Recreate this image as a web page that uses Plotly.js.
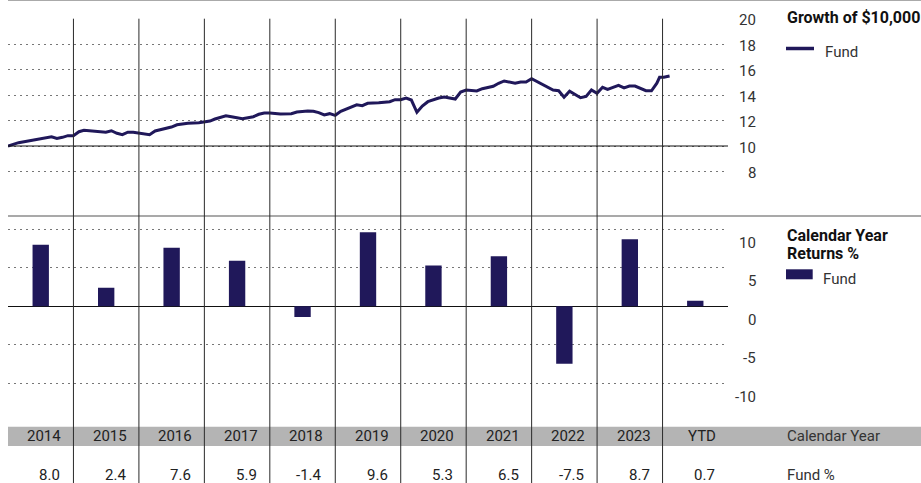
<!DOCTYPE html>
<html>
<head>
<meta charset="utf-8">
<script src="https://cdn.plot.ly/plotly-3.0.1.min.js"></script>
<style>html,body{margin:0;padding:0;background:#fff;}#chart{width:921px;height:483px;}</style>
</head>
<body>
<div id="chart"></div>
<script>
// ---- data ----
const growthDates = [
  '2014-01-01','2014-03-01','2014-09-01','2014-10-01','2014-11-01','2014-12-01',
  '2015-01-01','2015-02-01','2015-03-01','2015-05-01','2015-07-01','2015-08-01','2015-09-01','2015-10-01','2015-11-01','2015-12-01',
  '2016-01-01','2016-03-01','2016-04-01','2016-05-01','2016-07-01','2016-08-01','2016-10-01','2016-12-01',
  '2017-01-01','2017-02-01','2017-03-01','2017-04-01','2017-05-01','2017-06-01','2017-08-01','2017-09-01','2017-10-01','2017-11-01','2017-12-01',
  '2018-01-01','2018-03-01','2018-05-01','2018-06-01','2018-08-01','2018-09-01','2018-10-01','2018-11-01','2018-12-01',
  '2019-01-01','2019-02-01','2019-03-01','2019-04-01','2019-05-01','2019-06-01','2019-07-01','2019-09-01','2019-11-01','2019-12-01',
  '2020-01-01','2020-02-01','2020-03-01','2020-04-01','2020-05-01','2020-06-01','2020-08-01','2020-09-01','2020-11-01','2020-12-01',
  '2021-01-01','2021-03-01','2021-04-01','2021-06-01','2021-07-01','2021-08-01','2021-10-01','2021-11-01','2021-12-01',
  '2022-01-01','2022-02-01','2022-03-01','2022-05-01','2022-06-01','2022-07-01','2022-08-01','2022-09-01','2022-10-01','2022-11-01','2022-12-01',
  '2023-01-01','2023-02-01','2023-03-01','2023-05-01','2023-06-01','2023-07-01','2023-08-01','2023-10-01','2023-11-01','2023-12-01','2023-12-16',
  '2024-01-09','2024-02-10'
];
const growthValues = [
  10.00,10.26,10.73,10.60,10.68,10.81,
  10.81,11.12,11.23,11.18,11.08,11.20,11.00,10.89,11.08,11.08,
  11.00,10.89,11.18,11.28,11.49,11.67,11.78,11.83,
  11.89,11.96,12.12,12.28,12.38,12.30,12.14,12.22,12.30,12.49,12.59,
  12.59,12.51,12.54,12.67,12.75,12.73,12.62,12.44,12.54,
  12.41,12.73,12.88,13.09,13.24,13.17,13.35,13.40,13.48,13.64,
  13.64,13.77,13.61,12.65,13.14,13.48,13.77,13.85,13.69,14.24,
  14.40,14.32,14.50,14.69,14.93,15.11,14.93,15.03,15.03,
  15.29,15.05,14.82,14.40,14.34,13.83,14.30,14.06,13.79,13.90,14.40,
  14.14,14.61,14.45,14.77,14.56,14.71,14.71,14.34,14.34,14.93,15.40,
  15.40,15.50
];
const yearLabels = ['2014','2015','2016','2017','2018','2019','2020','2021','2022','2023','YTD'];
const fundReturns = [8.0,2.4,7.6,5.9,-1.4,9.6,5.3,6.5,-7.5,8.7,0.7];
const growthTicks = [8,10,12,14,16,18,20];
const returnTicks = [-10,-5,0,5,10];
const growthTitle = 'Growth of $10,000';
const returnsTitle = ['Calendar Year','Returns %'];
const seriesName = 'Fund';
const rowLabels = ['Calendar Year','Fund %'];

// ---- layout helpers ----
const W = 921, H = 483, L = 8;
const PW = W - L;
const px = v => (v - L) / PW;          // pixel x -> paper x
const py = v => 1 - v / H;             // pixel y -> paper y
const plotRight = 728;
const NAVY = '#20185a';
const FONT = 'Roboto, "Liberation Sans", Arial, sans-serif';
const dotted = '1.5px,4.5px';

const traces = [
  {type:'scatter', mode:'lines', x:growthDates, y:growthValues, name:seriesName,
   line:{color:NAVY, width:3}, xaxis:'x', yaxis:'y', showlegend:false, hoverinfo:'skip'},
  {type:'bar', x:yearLabels, y:fundReturns, name:seriesName,
   marker:{color:NAVY}, xaxis:'x2', yaxis:'y2', showlegend:false, hoverinfo:'skip'}
];

const shapes = [];
// gray table row
shapes.push({type:'rect', xref:'paper', yref:'paper', x0:0, x1:1, y0:py(446), y1:py(426.7),
  fillcolor:'#b4b4b4', line:{width:0}, layer:'below'});
// top border and separator
shapes.push({type:'line', xref:'paper', yref:'paper', x0:0, x1:1, y0:py(0.5), y1:py(0.5), line:{color:'#aaaaaa', width:1}});
shapes.push({type:'line', xref:'paper', yref:'paper', x0:0, x1:1, y0:py(216), y1:py(216), line:{color:'#555555', width:1.2}});
// baseline at $10,000
shapes.push({type:'line', xref:'paper', yref:'y', x0:0, x1:px(plotRight), y0:10, y1:10, line:{color:'#111', width:1}});
// year separators
for (let k = 0; k < yearLabels.length - 1; k++) {
  shapes.push({type:'line', xref:'x2', yref:'paper', x0:k+0.5, x1:k+0.5, y0:0, y1:py(18.7),
    line:{color:'#2a2a2a', width:1}});
}
// legend swatches
shapes.push({type:'line', xref:'paper', yref:'paper', x0:px(786), x1:px(814), y0:py(48.5), y1:py(48.5), line:{color:NAVY, width:3.5}});
shapes.push({type:'rect', xref:'paper', yref:'paper', x0:px(786), x1:px(812.7), y0:py(279.3), y1:py(269.3), fillcolor:NAVY, line:{width:0}});

const ann = [];
const txt = (text, x, y, opts={}) => Object.assign({text, xref:'paper', yref:'paper', x:px(x), y:py(y),
  xanchor:'left', yanchor:'middle', showarrow:false, font:{family:FONT, size:15, color:'#333'}}, opts);
ann.push(txt('<b>'+growthTitle+'</b>', 785, 18, {font:{family:FONT, size:16, color:'#111'}}));
ann.push(txt(seriesName, 823, 52));
ann.push(txt('<b>'+returnsTitle[0]+'</b>', 785, 235.5, {font:{family:FONT, size:16, color:'#111'}}));
ann.push(txt('<b>'+returnsTitle[1]+'</b>', 785, 253.5, {font:{family:FONT, size:16, color:'#111'}}));
ann.push(txt(seriesName, 821, 279));
ann.push(txt(rowLabels[0], 785, 436));
ann.push(txt(rowLabels[1], 785, 474.5));
yearLabels.forEach((lab, k) => {
  ann.push({text:lab, xref:'x2', yref:'paper', x:k+0.5, y:py(436), xanchor:'right', yanchor:'middle', xshift:-10,
    showarrow:false, font:{family:FONT, size:15, color:'#222'}});
  ann.push({text:fundReturns[k].toFixed(1), xref:'x2', yref:'paper', x:k+0.5, y:py(474.5), xanchor:'right', yanchor:'middle', xshift:-11,
    showarrow:false, font:{family:FONT, size:15, color:'#222'}});
});
// right-aligned value-axis labels (the reference offsets the returns labels below their gridlines)
growthTicks.forEach(v => ann.push({text:String(v), xref:'paper', yref:'y', x:px(758), y:v, yshift:-1.5,
  xanchor:'right', yanchor:'middle', showarrow:false, font:{family:FONT, size:15, color:'#333'}}));
returnTicks.forEach(v => ann.push({text:String(v), xref:'paper', yref:'y2', x:px(758), y:v, yshift:-13.5,
  xanchor:'right', yanchor:'middle', showarrow:false, font:{family:FONT, size:15, color:'#333'}}));

const xDom = [0, px(plotRight)];

const layout = {
  width:W, height:H,
  margin:{l:L, r:0, t:0, b:0},
  paper_bgcolor:'#fff', plot_bgcolor:'rgba(0,0,0,0)',
  font:{family:FONT, size:15, color:'#333'},
  showlegend:false,
  bargap:0.75,
  xaxis:{type:'date', domain:xDom, range:['2014-01-01','2025-01-01'], anchor:'y',
    showgrid:false, zeroline:false, showticklabels:false, ticks:'', showline:false},
  yaxis:{domain:[py(216), py(18.7)], range:[10 - (216-146)/12.73, 20], anchor:'x', side:'right',
    tickvals:growthTicks, showticklabels:false, showgrid:true, gridcolor:'#777', griddash:dotted, gridwidth:1,
    zeroline:false, showline:false, ticks:''},
  xaxis2:{type:'category', domain:xDom, range:[-0.5, yearLabels.length - 0.5], anchor:'y2',
    showgrid:false, zeroline:false, showticklabels:false, ticks:'', showline:false},
  yaxis2:{domain:[py(426.7), py(216)], range:[-(426.7-306.15)/7.685, (306.15-216)/7.685], anchor:'x2', side:'right',
    tickvals:returnTicks, showticklabels:false, showgrid:true, gridcolor:'#777', griddash:dotted, gridwidth:1,
    zeroline:true, zerolinecolor:'#111', zerolinewidth:1, showline:false, ticks:''},
  shapes:shapes,
  annotations:ann
};

Plotly.newPlot('chart', traces, layout, {staticPlot:true, displayModeBar:false});
</script>
</body>
</html>
